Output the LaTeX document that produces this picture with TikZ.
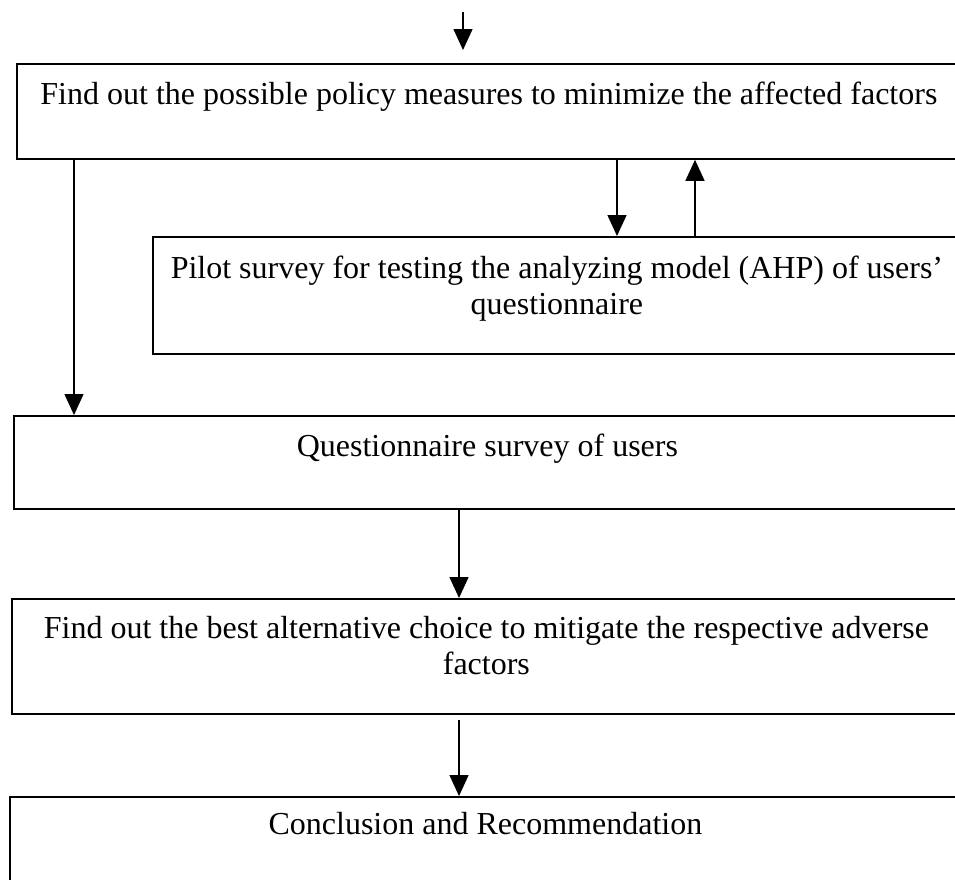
\documentclass[tikz,border=0pt]{standalone}
\usepackage{fontspec}
\setmainfont{Liberation Serif}
\usetikzlibrary{positioning, arrows.meta}

\tikzset{
  stage/.style={draw, line width=1.8pt, anchor=north west, inner sep=0pt},
  caption/.style={align=center, inner sep=0pt, font=\fontsize{32}{36}\selectfont},
  flow/.style={line width=1.4pt, -{Triangle[width=19pt, length=21pt]}}
}

\begin{document}
\begin{tikzpicture}[x=1pt, y=-1pt]
            \useasboundingbox (0,0) rectangle (955,879);
            \clip (0,0) rectangle (955,879);

            \node [stage, minimum width=944pt, minimum height=95pt] (measures) at (16,63) {};
            \node [caption, below=19pt of measures.north] (measures_text) {Find out the possible policy measures to minimize the affected factors};

            \node [stage, minimum width=808pt, minimum height=117pt] (pilot) at (152,236) {};
            \node [caption, below=20pt of pilot.north] (pilot_text) {Pilot survey for testing the analyzing model (AHP) of users’\\questionnaire};

            \node [stage, minimum width=947pt, minimum height=93pt] (users) at (13,415) {};
            \node [caption, below=19pt of users.north] (users_text) {Questionnaire survey of users};

            \node [stage, minimum width=949pt, minimum height=115pt] (best) at (11,598) {};
            \node [caption, below=18pt of best.north] (best_text) {Find out the best alternative choice to mitigate the respective adverse\\factors};

            \node [stage, minimum width=951pt, minimum height=120pt] (conclusion) at (9,796) {};
            \node [caption, below=16pt of conclusion.north] (conclusion_text) {Conclusion and Recommendation};

            \coordinate (start) at (463,12);

            \draw [flow, shorten >=13pt] (start) -- (start |- measures.north);
            \draw [flow] (74,0 |- measures.south) -- (74,0 |- users.north);
            \draw [flow] (617,0 |- measures.south) -- (617,0 |- pilot.north);
            \draw [flow] (695,0 |- pilot.north) -- (695,0 |- measures.south);
            \draw [flow] (459,0 |- users.south) -- (459,0 |- best.north);
            \draw [flow, shorten <=5pt] (459,0 |- best.south) -- (459,0 |- conclusion.north);
          \end{tikzpicture}
\end{document}
